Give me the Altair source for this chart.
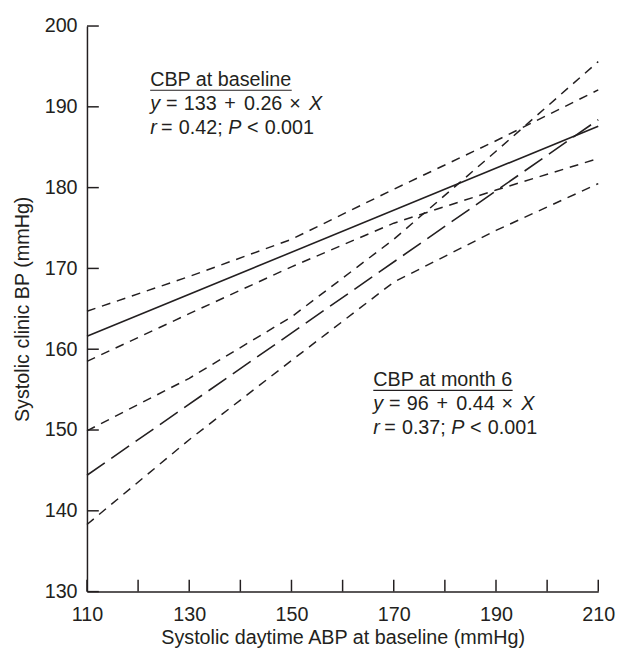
import altair as alt
import pandas as pd

INK = "#231f20"
FONT = "Liberation Sans"
FS = 20

# ---- data ----
x_ends = [110, 210]
base_fit = [161.6, 187.6]   # CBP at baseline regression
m6_fit = [144.4, 188.4]     # CBP at month 6 regression

band_x = [110, 130, 150, 170, 190, 210]
base_upper = [164.7, 169.0, 173.6, 179.8, 185.8, 192.1]
base_lower = [158.5, 164.4, 170.2, 175.6, 179.7, 183.6]
m6_upper = [149.9, 156.4, 164.0, 173.6, 184.5, 195.6]
m6_lower = [138.3, 148.8, 158.6, 168.3, 174.7, 180.5]

x_tick_values = list(range(110, 211, 10))
x_label_values = [110, 130, 150, 170, 190, 210]
y_label_values = list(range(130, 201, 10))

# annotation anchors (data units)
base_note_x = 122.36
base_note_y = [192.55, 189.6, 186.6]
base_underline_y = 192.05
m6_note_x = 166.0
m6_note_y = [155.4, 152.5, 149.45]
m6_underline_y = 154.9

# text pieces of each annotation line: (text, italic)
base_lines = [
    [("CBP at baseline", False)],
    [("y", True), ("=", False), ("133", False), ("+", False), ("0.26", False), ("\u00d7", False), ("X", True)],
    [("r", True), ("=", False), ("0.42;", False), ("P", True), ("<", False), ("0.001", False)],
]
m6_lines = [
    [("CBP at month 6", False)],
    [("y", True), ("=", False), ("96", False), ("+", False), ("0.44", False), ("\u00d7", False), ("X", True)],
    [("r", True), ("=", False), ("0.37;", False), ("P", True), ("<", False), ("0.001", False)],
]
# horizontal pixel offsets of the pieces (typesetting)
base_offsets = [[0], [0, 16, 34, 75, 95, 141, 161], [0, 11, 29, 79, 98, 116]]
m6_offsets = [[0], [0, 16, 34, 64, 84, 130, 150], [0, 11, 29, 79, 98, 116]]

W, H = 518, 573
PX_PER_X = W / 100.0

xs = alt.Scale(domain=[110, 210], nice=False, zero=False)
ys = alt.Scale(domain=[130, 200], nice=False, zero=False)

bands = pd.DataFrame({
    "x": band_x * 4,
    "y": base_upper + base_lower + m6_upper + m6_lower,
    "s": ["bu"] * 6 + ["bl"] * 6 + ["mu"] * 6 + ["ml"] * 6,
})
fits_b = pd.DataFrame({"x": x_ends, "y": base_fit})
fits_m = pd.DataFrame({"x": x_ends, "y": m6_fit})

xaxis = alt.Axis(values=x_label_values, title="Systolic daytime ABP at baseline (mmHg)",
                 labelPadding=13, titlePadding=4, grid=False, tickSize=0, labelFlush=False)
yaxis = alt.Axis(values=y_label_values, title="Systolic clinic BP (mmHg)",
                 labelPadding=10, titlePadding=12, grid=False, tickSize=0, labelFlush=False)

band_layer = alt.Chart(bands).mark_line(color=INK, strokeWidth=1.5, strokeDash=[9, 7]).encode(
    x=alt.X("x:Q", scale=xs, axis=xaxis),
    y=alt.Y("y:Q", scale=ys, axis=yaxis),
    detail="s:N",
)
base_layer = alt.Chart(fits_b).mark_line(color=INK, strokeWidth=1.6).encode(
    x=alt.X("x:Q", scale=xs), y=alt.Y("y:Q", scale=ys))
m6_layer = alt.Chart(fits_m).mark_line(color=INK, strokeWidth=1.6, strokeDash=[22, 8]).encode(
    x=alt.X("x:Q", scale=xs), y=alt.Y("y:Q", scale=ys))

xticks = alt.Chart(pd.DataFrame({"x": x_tick_values})).mark_rule(color=INK, strokeWidth=1.5).encode(
    x=alt.X("x:Q", scale=xs), y=alt.value(H), y2=alt.value(H - 12))
yticks = alt.Chart(pd.DataFrame({"y": y_label_values})).mark_rule(color=INK, strokeWidth=1.5).encode(
    y=alt.Y("y:Q", scale=ys), x=alt.value(0), x2=alt.value(12))


def seg(text, x, y, italic=False, dx=0.0):
    return alt.Chart(pd.DataFrame({"x": [x], "y": [y], "t": [text]})).mark_text(
        align="left", baseline="alphabetic", font=FONT, fontSize=FS, color=INK,
        fontStyle="italic" if italic else "normal", dx=dx,
    ).encode(x=alt.X("x:Q", scale=xs), y=alt.Y("y:Q", scale=ys), text="t:N")


def note(lines, offsets, x, ys_):
    layers = []
    for pieces, offs, yy in zip(lines, offsets, ys_):
        for (txt, it), dx in zip(pieces, offs):
            layers.append(seg(txt, x, yy, it, dx))
    return layers


ADV_T = {"C": 722, "B": 667, "P": 667, " ": 278, "a": 556, "t": 278, "b": 556, "s": 500, "e": 556,
         "l": 222, "i": 222, "n": 556, "m": 833, "o": 556, "h": 556, "6": 556}


def underline(x, text, y):
    w = sum(ADV_T.get(c, 556) for c in text) * FS / 1000.0
    return alt.Chart(pd.DataFrame({"x": [x], "x2": [x + w / PX_PER_X], "y": [y]})).mark_rule(
        color=INK, strokeWidth=1.2).encode(x=alt.X("x:Q", scale=xs), x2="x2:Q", y=alt.Y("y:Q", scale=ys))


texts = (note(base_lines, base_offsets, base_note_x, base_note_y)
         + [underline(base_note_x, "CBP at baseline", base_underline_y)]
         + note(m6_lines, m6_offsets, m6_note_x, m6_note_y)
         + [underline(m6_note_x, "CBP at month 6", m6_underline_y)])

chart = alt.layer(band_layer, base_layer, m6_layer, xticks, yticks, *texts).properties(
    width=W, height=H,
    padding={"left": 80, "top": 14, "right": 20, "bottom": 63},
    autosize="none",
).configure_view(stroke=None).configure_axis(
    domainColor=INK, domainWidth=1.5, labelColor=INK, titleColor=INK,
    labelFont=FONT, titleFont=FONT, labelFontSize=FS, titleFontSize=FS,
    titleFontWeight="normal",
)

chart.save("out.html", embed_options={"renderer": "svg", "actions": False})
